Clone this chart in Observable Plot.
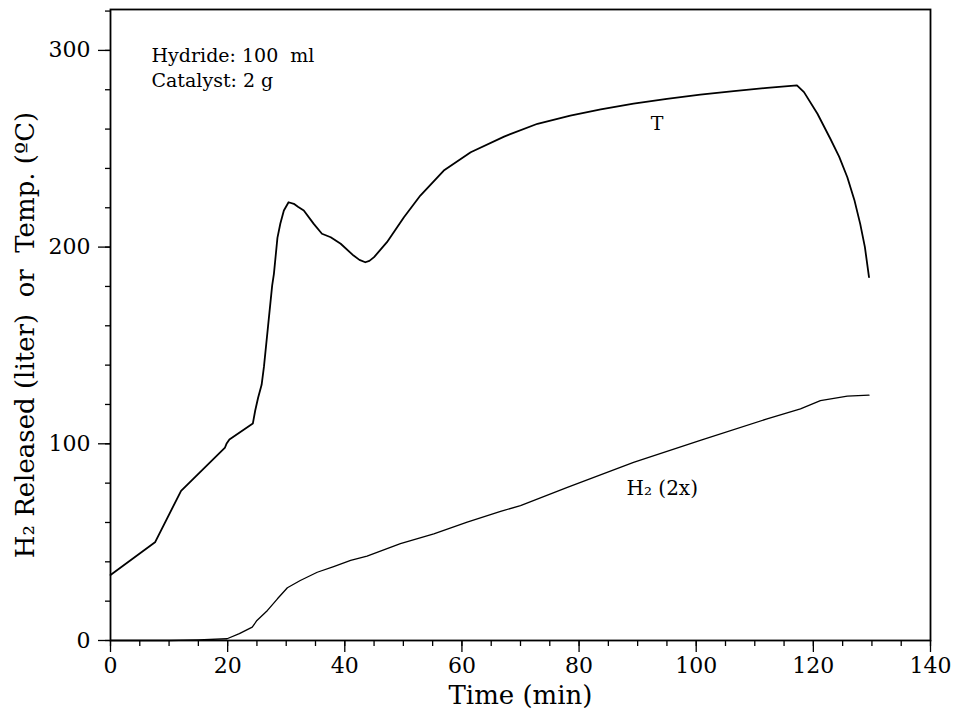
<!DOCTYPE html>
<html>
<head>
<meta charset="utf-8">
<script src="https://cdn.jsdelivr.net/npm/d3@7"></script>
<script src="https://cdn.jsdelivr.net/npm/@observablehq/plot@0.6"></script>
<style>
  html, body { margin: 0; padding: 0; background: #fff; }
  #chart { width: 954px; height: 719px; }
</style>
</head>
<body>
<div id="chart"></div>
<script>
// Temperature curve (°C) vs time (min)
const tempTime = [0, 7.6, 12.05, 19.55, 19.8, 20.3, 24.3, 24.7, 25.2, 25.8, 26.2, 26.9, 27.6, 27.9, 28.5, 29.0, 29.6, 30.4, 31.3, 32.0, 33.0, 34.7, 36.1, 37.6, 39.3, 41.5, 42.5, 43.5, 44.2, 45.0, 47.2, 50.1, 52.9, 56.9, 61.5, 67.2, 72.9, 78.5, 83.7, 89.3, 95.0, 100.7, 106.4, 112.1, 117.2, 118.4, 120.7, 122.9, 124.4, 125.8, 127.0, 128.0, 128.8, 129.5];
const tempValue = [33.3, 49.9, 76.1, 98.1, 100, 102.2, 110.3, 116.8, 123.4, 130, 139.2, 159.8, 180.4, 186.4, 204.7, 212, 218.6, 222.8, 222, 220.5, 218.6, 211.8, 206.8, 205, 201.7, 195.7, 193.5, 192.3, 193, 194.9, 202.5, 215.2, 226.2, 238.9, 248.2, 256.2, 262.7, 266.9, 270, 273, 275.4, 277.5, 279.3, 281, 282.2, 278.8, 267.8, 255.1, 246, 235.5, 224, 211.8, 200, 184.7];

// H2 released (liter, plotted 2x) vs time (min)
const h2Time = [0, 10, 15, 19.9, 22, 24.2, 25.0, 26.8, 28.5, 30.2, 32.4, 35.3, 38.1, 41.0, 43.8, 49.5, 55.2, 60.9, 66.6, 70.0, 78.0, 89.3, 100.7, 112.1, 117.8, 121.2, 125.8, 129.5];
const h2Value = [0, 0, 0.3, 0.9, 3.5, 6.8, 10.2, 15.3, 21.2, 26.8, 30.5, 34.7, 37.6, 40.7, 42.9, 49.2, 54.2, 60.2, 65.6, 68.6, 77.9, 90.6, 101.7, 112.7, 117.8, 122.0, 124.2, 124.7];

// Axis ticks
const xMajorTicks = [0, 20, 40, 60, 80, 100, 120, 140];
const xMinorTicks = d3.range(0, 141, 5);
const yMajorTicks = [0, 100, 200, 300];
const yMinorTicks = d3.range(0, 321, 20);

// Texts
const xLabel = "Time (min)";
const yLabel = "H\u2082 Released (liter)\u00a0\u00a0or\u00a0\u00a0Temp. (\u00baC)";
const noteLines = ["Hydride: 100\u00a0\u00a0ml", "Catalyst: 2 g"];
const seriesLabels = ["T", "H\u2082 (2x)"];

const temp = tempTime.map((t, i) => ({t, v: tempValue[i]}));
const h2 = h2Time.map((t, i) => ({t, v: h2Value[i]}));

const font = "DejaVu Serif";

const chart = Plot.plot({
  width: 954,
  height: 719,
  marginLeft: 110,
  marginRight: 24,
  marginTop: 9,
  marginBottom: 79,
  style: {fontFamily: font, fontSize: "22px", background: "#fff", color: "#000"},
  x: {domain: [0, 140]},
  y: {domain: [0, 320.8]},
  marks: [
    Plot.axisX({ticks: xMinorTicks, tickSize: 6, tickFormat: () => "", label: null, strokeWidth: 1.3}),
    Plot.axisX({ticks: xMajorTicks, tickSize: 12, tickPadding: 5, label: null, fontSize: 22, strokeWidth: 1.3}),
    Plot.axisY({ticks: yMinorTicks, tickSize: 5, tickFormat: () => "", label: null, strokeWidth: 1.3}),
    Plot.axisY({ticks: yMajorTicks, tickSize: 12, tickPadding: 8, label: null, fontSize: 22, strokeWidth: 1.3}),
    Plot.frame({stroke: "#000", strokeWidth: 1.8}),
    Plot.line(temp, {x: "t", y: "v", stroke: "#000", strokeWidth: 1.8}),
    Plot.line(h2, {x: "t", y: "v", stroke: "#000", strokeWidth: 1.3}),
    Plot.text([noteLines[0]], {x: 7.0, y: 297.4, text: d => d, textAnchor: "start", fontSize: 19}),
    Plot.text([noteLines[1]], {x: 7.0, y: 284.4, text: d => d, textAnchor: "start", fontSize: 19}),
    Plot.text([seriesLabels[0]], {x: 93.3, y: 262.7, text: d => d, fontSize: 19}),
    Plot.text([seriesLabels[1]], {x: 88.1, y: 77, text: d => d, textAnchor: "start", fontSize: 20}),
    Plot.text([xLabel], {frameAnchor: "bottom", dy: 63, text: d => d, fontSize: 26, letterSpacing: "1.2px"}),
    Plot.text([yLabel], {frameAnchor: "left", rotate: -90, dx: -85, dy: 10, text: d => d, textAnchor: "middle", fontSize: 26, letterSpacing: "1.5px"})
  ]
});

document.getElementById("chart").appendChild(chart);
</script>
</body>
</html>
